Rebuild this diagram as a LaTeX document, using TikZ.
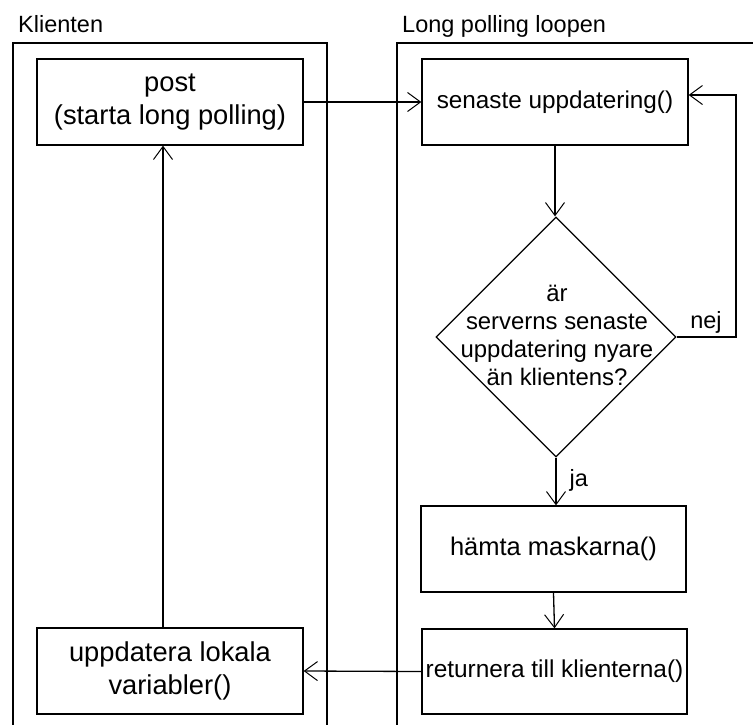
\documentclass[tikz,border=0pt]{standalone}
\usepackage{fontspec}
\setmainfont{Liberation Sans}
\usetikzlibrary{shapes.geometric,arrows.meta}
\begin{document}
\begin{tikzpicture}[x=1pt,y=-1pt,
  txt/.style={font=\fontsize{23.5}{30}\selectfont},
  big/.style={font=\fontsize{27.3}{33}\selectfont},
  proc/.style={txt, draw, line width=1.3pt, minimum width=266pt, minimum height=86pt, inner sep=0pt, align=center},
  decision/.style={draw, diamond, line width=1.3pt, minimum width=240pt, minimum height=240pt, inner sep=0pt},
  arr/.style={line width=1.3pt, -{Straight Barb[length=13pt,width=19pt,line width=1pt]}},
  lane/.style={line width=1.3pt},
  lanetitle/.style={txt, anchor=base west, inner sep=0pt}]
\useasboundingbox (0,0) rectangle (753,724);

% swimlanes
\draw[lane] (13,730) -- (13,43) -- (327,43) -- (327,730);
\draw[lane] (397,730) -- (397,43) -- (760,43);
\node[lanetitle] (t1) at (18,32) {Klienten};
\node[lanetitle] (t2) at (402,32) {Long polling loopen};

% nodes
\node[proc, big] (post) at (170,102) {post\\(starta long polling)};
\node[proc, font=\fontsize{24.3}{30}\selectfont] (sen) at (555,102) {senaste uppdatering()};
\node[decision] (dec) at (556,337) {};
\node[align=center, font=\fontsize{23.9}{28}\selectfont] (dect) at (557,335) {är\\serverns senaste\\uppdatering nyare\\än klientens?};
\node[proc, minimum width=265pt, font=\fontsize{25.5}{30}\selectfont] (ham) at (553.5,549) {hämta maskarna()};
\node[proc, minimum width=265pt, minimum height=85pt, font=\fontsize{24.4}{30}\selectfont] (ret) at (554.5,671.5) {returnera till klienterna()};
\node[proc, big] (upd) at (170,671) {uppdatera lokala\\variabler()};

\coordinate (loopc) at (736,95);

% connectors
\draw[arr] (post.east) -- (sen.west);
\draw[arr] (sen.south) -- (sen.south |- dec.north);
\draw[arr] (dec.east) -| (loopc) -- (sen.east |- loopc);
\draw[arr] (dec.south) -- (dec.south |- ham.north);
\node[txt, anchor=west] (ja) at (566,480) {ja};
\node[txt] (nej) at (706,322) {nej};
\draw[arr] (ham.south) -- (ret.north);
\draw[arr] (ret.west) -- (upd.east);
\draw[arr] ([xshift=-7pt]upd.north) -- ([xshift=-7pt]post.south);
\end{tikzpicture}
\end{document}
